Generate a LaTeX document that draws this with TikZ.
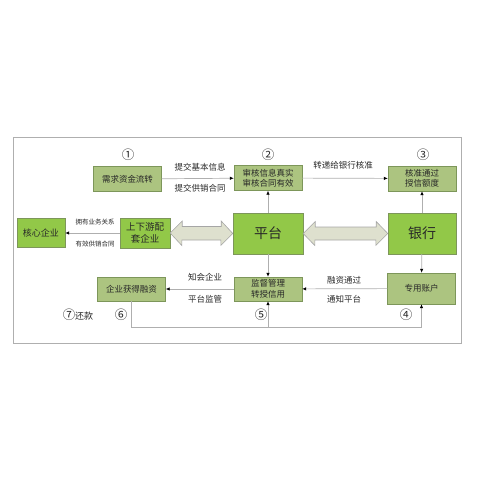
\documentclass[tikz,border=0pt]{standalone}
\usepackage{fontspec}
\setmainfont{Noto Sans CJK SC}
\usetikzlibrary{arrows.meta}
\definecolor{leaf}{RGB}{146,200,72}
\definecolor{olive}{RGB}{172,196,128}
\definecolor{edge}{RGB}{125,150,90}
\definecolor{wire}{RGB}{175,175,175}
\definecolor{sand}{RGB}{222,224,206}
\definecolor{ink}{RGB}{40,40,40}
\begin{document}
\begin{tikzpicture}[x=1pt, y=-1pt,
    olivebox/.style = {draw=edge, fill=olive, align=center, inner sep=1pt, text=ink,
        minimum width=68pt, minimum height=25pt, font=\fontsize{8.5}{10.5}\selectfont},
    leafbox/.style = {draw=edge, fill=leaf, align=center, inner sep=1pt, text=ink},
    wirearrow/.style = {draw=wire, line width=0.7pt, -{Latex[length=4pt, width=3.5pt, color=black]}},
    tag/.style = {text=ink, font=\fontsize{8.5}{10}\selectfont},
    smalltag/.style = {text=ink, font=\fontsize{6.5}{8}\selectfont},
    num/.style = {text=ink, font=\fontsize{12.5}{12.5}\selectfont},
    fatarrow/.style = {draw=gray!70, fill=sand, line width=0.6pt}]
    \useasboundingbox (0,0) rectangle (480,480);
    \draw[wire, line width=0.8pt] (13,137) rectangle (461,343);

    \node[olivebox] (need) at (127.5,179) {需求资金流转};
    \node[olivebox] (audit) at (268,178) {审核信息真实\\审核合同有效};
    \node[olivebox] (approve) at (422,178.5) {核准通过\\授信额度};

    \node[leafbox, minimum width=48pt, minimum height=29pt, font=\fontsize{9}{11}\selectfont] (core) at (41,233) {核心企业};
    \node[leafbox, minimum width=50pt, minimum height=30pt, font=\fontsize{9.5}{12}\selectfont] (supply) at (145,233) {上下游配\\套企业};
    \node[leafbox, minimum width=70pt, minimum height=41pt, font=\fontsize{14}{14}\selectfont] (platform) at (268,233.5) {平台};
    \node[leafbox, minimum width=68pt, minimum height=41pt, font=\fontsize{14}{14}\selectfont] (bank) at (422,233.5) {银行};

    \node[olivebox, minimum height=24pt] (finance) at (131.5,289) {企业获得融资};
    \node[olivebox, minimum height=24pt] (supervise) at (268,289) {监督管理\\转授信用};
    \node[olivebox, minimum height=31pt] (account) at (421.5,288.5) {专用账户};

    \node[num] (n1) at (128,155) {①};
    \node[num] (n2) at (268,155) {②};
    \node[num] (n3) at (423,155) {③};
    \node[num] (n4) at (406,315) {④};
    \node[num] (n5) at (261,315) {⑤};
    \node[num] (n6) at (121,315) {⑥};
    \node[num] (n7) at (78,315) {⑦\fontsize{9}{9}\selectfont 还款};

    \draw[wirearrow] (need) -- (audit);
    \node[tag] (t1) at (200,167) {提交基本信息};
    \node[tag] (t2) at (200,188) {提交供销合同};
    \draw[wirearrow] (audit) -- (approve);
    \node[tag] (t3) at (343,165) {转递给银行核准};
    \draw[wirearrow] (platform) -- (audit);
    \draw[wirearrow] (bank) -- (approve);

    \draw[wirearrow, {Latex[length=4pt, width=3.5pt, color=black]}-] (core) -- (supply);
    \node[smalltag] (t4) at (95,222) {拥有业务关系};
    \node[smalltag] (t5) at (95,244) {有效供销合同};

    \draw[fatarrow] (supply.east) -- ++(12,-12) -- ++(0,5.5) -- ++(39,0) -- ++(0,-5.5)
        -- (platform.west) -- ++(-12,12) -- ++(0,-5.5) -- ++(-39,0) -- ++(0,5.5) -- cycle;
    \draw[fatarrow] (platform.east) -- ++(12,-12) -- ++(0,5.5) -- ++(61,0) -- ++(0,-5.5)
        -- (bank.west) -- ++(-12,12) -- ++(0,-5.5) -- ++(-61,0) -- ++(0,5.5) -- cycle;

    \draw[wirearrow] (platform) -- (supervise);
    \draw[wirearrow] (bank) -- (account);
    \draw[wirearrow] (account) -- (supervise);
    \node[tag] (t6) at (344,280) {融资通过};
    \node[tag] (t7) at (344,299) {通知平台};
    \draw[wirearrow] (supervise) -- (finance);
    \node[tag] (t8) at (205,277) {知会企业};
    \node[tag] (t9) at (205,299) {平台监管};

    \coordinate (loop) at (268,327);
    \draw[wirearrow] (finance.south) |- (account.south |- loop) -- (account.south);
    \draw[wirearrow] (loop) -- (supervise.south);
\end{tikzpicture}
\end{document}
